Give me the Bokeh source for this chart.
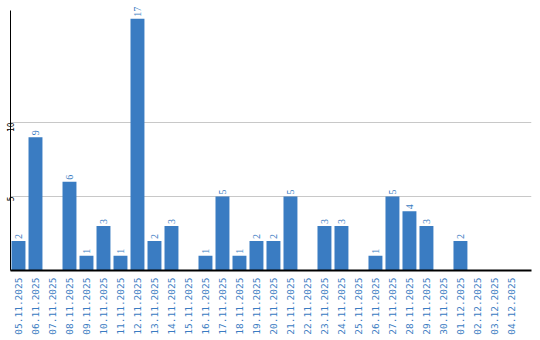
import math
from bokeh.plotting import figure
from bokeh.models import Range1d, FixedTicker, ColumnDataSource, LabelSet
from bokeh.embed import file_html
from bokeh.resources import INLINE

dates = ["05.11.2025", "06.11.2025", "07.11.2025", "08.11.2025", "09.11.2025",
         "10.11.2025", "11.11.2025", "12.11.2025", "13.11.2025", "14.11.2025",
         "15.11.2025", "16.11.2025", "17.11.2025", "18.11.2025", "19.11.2025",
         "20.11.2025", "21.11.2025", "22.11.2025", "23.11.2025", "24.11.2025",
         "25.11.2025", "26.11.2025", "27.11.2025", "28.11.2025", "29.11.2025",
         "30.11.2025", "01.12.2025", "02.12.2025", "03.12.2025", "04.12.2025"]
counts = [2, 9, 0, 6, 1, 3, 1, 17, 2, 3, 0, 1, 5, 1, 2, 2, 5, 0, 3, 3,
          0, 1, 5, 4, 3, 0, 2, 0, 0, 0]
y_ticks = [5, 10]

BLUE = "#3a7cc2"

idx = list(range(len(dates)))
src = ColumnDataSource(dict(x=idx, top=counts))
lab_x = [i for i, v in zip(idx, counts) if v > 0]
lab_y = [v for v in counts if v > 0]
lab_t = [str(v) for v in counts if v > 0]
lsrc = ColumnDataSource(dict(x=lab_x, y=lab_y, t=lab_t))

p = figure(width=540, height=340, output_backend="svg", toolbar_location=None,
           x_range=Range1d(-0.47, 30.18), y_range=Range1d(0, 18.24),
           min_border_left=0, min_border_right=9, min_border_top=0,
           min_border_bottom=70)
p.outline_line_color = None
p.background_fill_color = "white"
p.border_fill_color = "white"

p.vbar(x="x", top="top", width=0.82, bottom=0, source=src,
       fill_color=BLUE, line_color=None)
labels = LabelSet(x="x", y="y", text="t", source=lsrc, angle=math.pi / 2,
                  text_align="left", text_baseline="middle", y_offset=2,
                  text_color=BLUE, text_font_size="10px",
                  text_font="DejaVu Sans Mono")
p.add_layout(labels)

# x axis
xa = p.xaxis[0]
xa.ticker = FixedTicker(ticks=idx)
xa.major_label_overrides = {i: d for i, d in zip(idx, dates)}
xa.major_label_orientation = math.pi / 2
xa.major_label_text_color = BLUE
xa.major_label_text_font = "DejaVu Sans Mono"
xa.major_label_text_font_size = "9.5px"
xa.major_label_standoff = 7
xa.axis_label_standoff = 0
xa.major_tick_line_color = None
xa.major_tick_out = 0
xa.major_tick_in = 0
xa.minor_tick_line_color = None
xa.minor_tick_out = 0
xa.axis_line_color = "black"
xa.axis_line_width = 2

# y axis
ya = p.yaxis[0]
ya.ticker = FixedTicker(ticks=y_ticks)
ya.bounds = (0, 17.57)
ya.major_label_orientation = math.pi / 2
ya.major_label_text_color = "black"
ya.major_label_text_font = "DejaVu Sans Mono"
ya.major_label_text_font_size = "8px"
ya.major_label_standoff = 0
ya.axis_label_standoff = 0
ya.major_tick_line_color = None
ya.major_tick_out = 0
ya.major_tick_in = 0
ya.minor_tick_line_color = None
ya.minor_tick_out = 0
ya.axis_line_color = "black"
ya.axis_line_width = 1

p.xgrid.grid_line_color = None
p.ygrid.grid_line_color = "#c8c8c8"
p.ygrid.grid_line_width = 1

open("out.html", "w").write(file_html(p, INLINE))
